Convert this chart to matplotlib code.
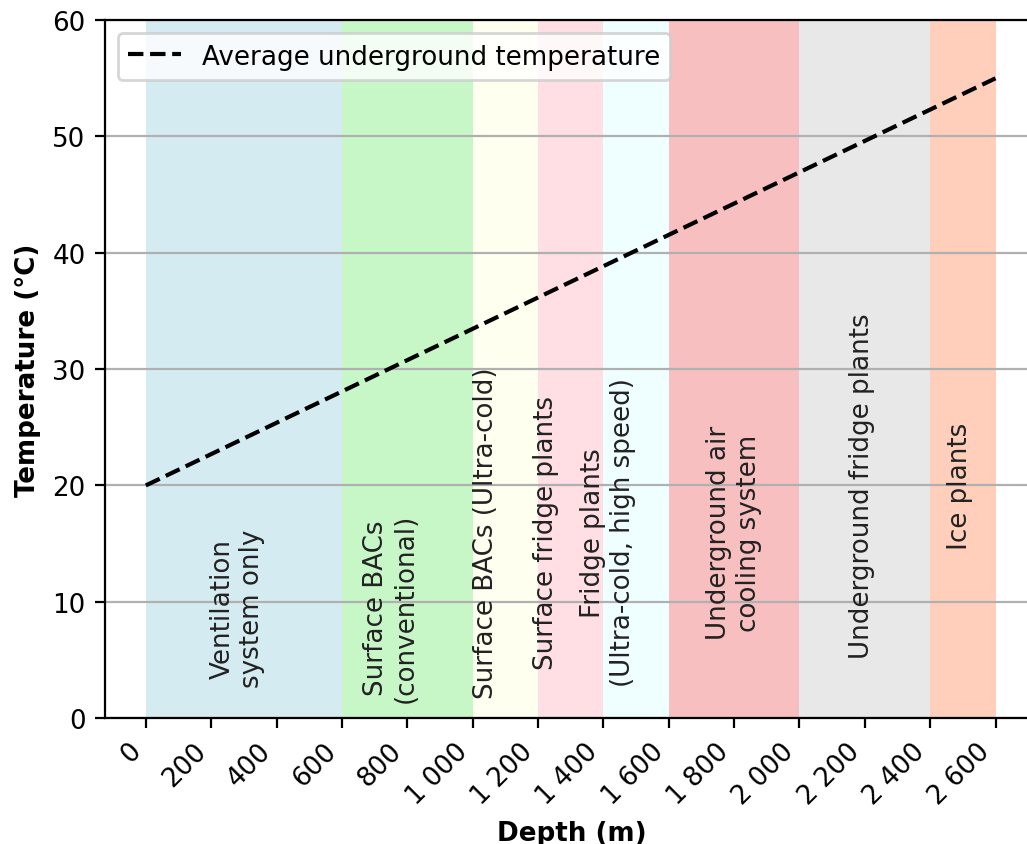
import matplotlib
matplotlib.use("Agg")
import matplotlib.pyplot as plt

# temperature line
depth = [0, 2600]
temperature = [20, 55]

# cooling method zones (start, end)
zone_starts = [0, 600, 1000, 1200, 1400, 1600, 2000, 2400]
zone_ends = [600, 1000, 1200, 1400, 1600, 2000, 2400, 2600]
zone_colors = ["lightblue", "lightgreen", "lightyellow", "pink",
               "lightcyan", "lightcoral", "lightgray", "lightsalmon"]
zone_labels = ["Ventilation\nsystem only",
               "Surface BACs\n(conventional)",
               "Surface BACs (Ultra-cold)",
               "Surface fridge plants",
               "Fridge plants\n(Ultra-cold, high speed)",
               "Underground air\ncooling system",
               "Underground fridge plants",
               "Ice plants"]
label_x = [280, 750, 1040, 1225, 1415, 1800, 2190, 2490]
label_y = [9.5, 9.5, 16, 16, 16, 16, 20, 20]

depth_ticks = [0, 200, 400, 600, 800, 1000, 1200, 1400, 1600, 1800, 2000, 2200, 2400, 2600]
depth_tick_labels = ["0", "200", "400", "600", "800", "1 000", "1 200", "1 400",
                     "1 600", "1 800", "2 000", "2 200", "2 400", "2 600"]

plt.rcParams["font.size"] = 9.4

fig = plt.figure(figsize=(5.135, 4.225), dpi=200)
ax = fig.add_axes([0.1022, 0.149, 0.9085, 0.826])

for s, e, c in zip(zone_starts, zone_ends, zone_colors):
    ax.axvspan(s, e, color=c, alpha=0.5, lw=0)

for x, y, t in zip(label_x, label_y, zone_labels):
    ax.text(x, y, t, rotation=90, ha="center", va="center",
            multialignment="center", color="#222222")

ax.plot(depth, temperature, "k--", label="Average underground temperature")

ax.set_xlim(-125, 2730)
ax.set_ylim(0, 60)
ax.set_xticks(depth_ticks)
ax.set_xticklabels(depth_tick_labels, rotation=45, ha="right")
ax.grid(True, axis="y")
ax.set_xlabel("Depth (m)", fontweight="bold")
ax.set_ylabel("Temperature (°C)", fontweight="bold")
ax.legend(loc="upper left")

fig.savefig("out.png", dpi=200)
